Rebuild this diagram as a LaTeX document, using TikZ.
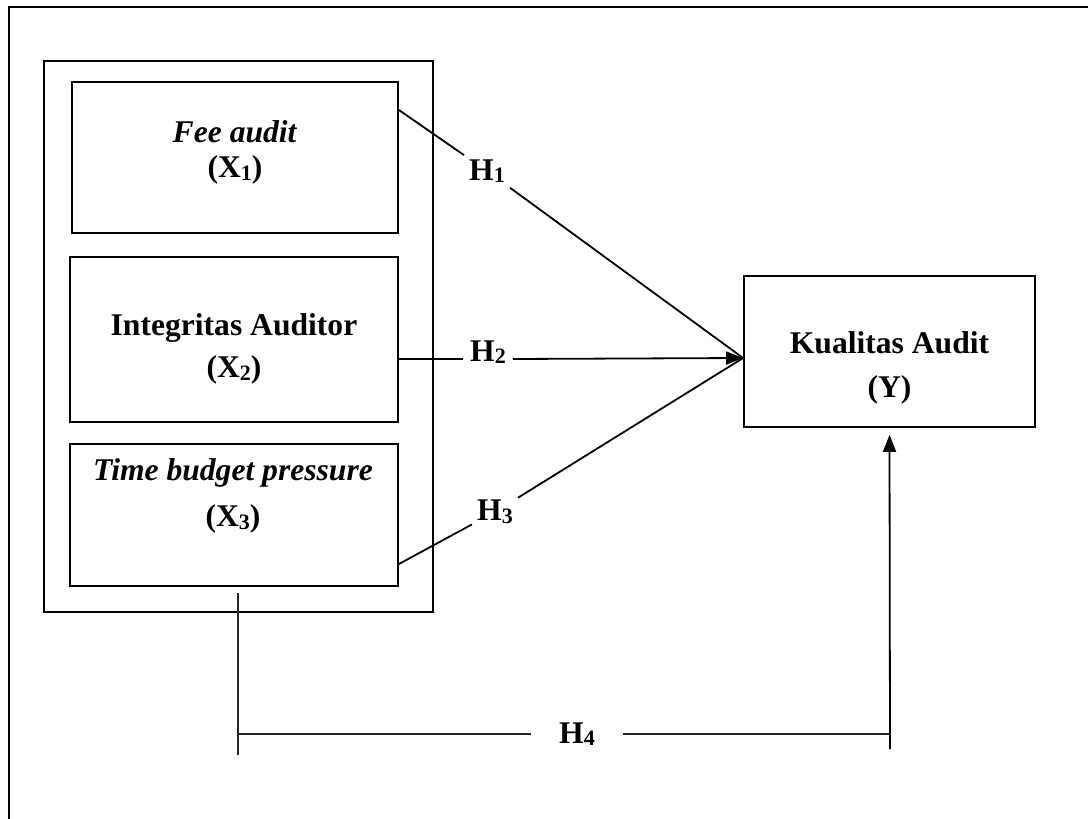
\documentclass[tikz,border=0pt]{standalone}
\usepackage{fontspec}
\setmainfont{Liberation Serif}
\usetikzlibrary{arrows.meta}
\newcommand{\idx}[1]{\raisebox{-0.08em}{\fontsize{22}{22}\selectfont #1}}
\tikzset{
    varbox/.style={draw, line width=1.8pt, inner sep=0pt},
    groupbox/.style={draw, line width=2pt, inner sep=0pt, minimum width=389.5pt, minimum height=551.3pt},
    vartext/.style={align=center, inner sep=0pt, font=\fontsize{31.6}{#1}\selectfont\bfseries},
    hyp/.style={inner sep=5pt, font=\fontsize{31.6}{37}\selectfont\bfseries},
    link/.style={line width=1.8pt, >={Triangle[length=17pt, width=13pt]}},
    thinlink/.style={line width=1.4pt, draw=black!85},
    frameline/.style={line width=2.2pt}
}
\begin{document}
\begin{tikzpicture}[x=1pt, y=-1pt]
    \useasboundingbox (0,0) rectangle (1088,819);
    \draw[frameline] (1090,7) -- (8.7,7) -- (8.7,821);

    \node[groupbox] (grp) at (238.25,336.35) {};
    \node[varbox, minimum width=326pt, minimum height=151pt] (x1) at (235,157.5) {};
    \node[varbox, minimum width=328pt, minimum height=165pt] (x2) at (234,339.5) {};
    \node[varbox, minimum width=328pt, minimum height=142pt] (x3) at (234,515) {};
    \node[varbox, minimum width=291pt, minimum height=151pt] (y) at (889.5,351.5) {};

    \node[vartext=35] (x1t) at (235,152.5) {\textit{Fee audit}\\(X\idx{1})};
    \node[vartext=42.5] (x2t) at (234,349) {Integritas Auditor\\(X\idx{2})};
    \node[vartext=46] (x3t) at (233,496) {\textit{Time budget pressure}\\(X\idx{3})};
    \node[vartext=43.5] (yt) at (889.5,368) {Kualitas Audit\\(Y)};

    \node[hyp] (h1) at (487,171) {H\idx{1}};
    \node[hyp, inner xsep=7pt] (h2) at (488,352) {H\idx{2}};
    \node[hyp] (h3) at (495,512) {H\idx{3}};
    \node[hyp, inner xsep=28pt] (h4) at (577,734) {H\idx{4}};

    \coordinate (a1) at ([yshift=47.5pt]x1.east);
    \coordinate (a2) at ([yshift=-19.5pt]x2.east);
    \coordinate (a3) at ([yshift=-49pt]x3.east);
    \coordinate (yin) at ([yshift=-6.5pt]y.west);
    \coordinate (ytip) at ([yshift=-7pt]y.south);
    \coordinate (d0) at (238,593);
    \coordinate (d1) at (238,755);
    \coordinate (e0) at (890,749);

    % hypotheses 1-3
    \draw[link] (a1) -- (h1);
    \draw[link] (h1) -- (yin);
    \draw[link] (a2) -- (a2 -| h2.west);
    \draw[link, ->] (a2 -| h2.east) -- (yin);
    \draw[link] (a3) -- (h3);
    \draw[link] (h3) -- (yin);

    % simultaneous effect
    \draw[thinlink] (d0) -- (d1);
    \draw[thinlink] (d0 |- h4) -- (h4);
    \draw[thinlink] (h4) -- (h4 -| e0);
    \draw[link, ->] (e0) -- (ytip);
\end{tikzpicture}
\end{document}
